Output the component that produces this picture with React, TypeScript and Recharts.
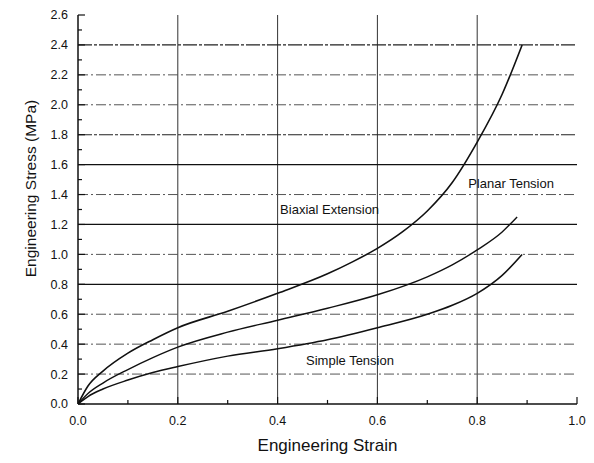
import {
  LineChart,
  Line,
  XAxis,
  YAxis,
  ReferenceLine,
  ReferenceDot,
} from 'recharts';

const biaxialStrain = [0, 0.02, 0.05, 0.1, 0.15, 0.2, 0.3, 0.4, 0.5, 0.55, 0.6, 0.65, 0.7, 0.75, 0.8, 0.85, 0.89];
const biaxialStress = [0, 0.12, 0.22, 0.34, 0.43, 0.51, 0.62, 0.74, 0.87, 0.95, 1.04, 1.15, 1.29, 1.48, 1.75, 2.07, 2.4];

const planarStrain = [0, 0.02, 0.05, 0.1, 0.15, 0.2, 0.3, 0.4, 0.5, 0.6, 0.7, 0.75, 0.8, 0.85, 0.88];
const planarStress = [0, 0.07, 0.14, 0.23, 0.31, 0.38, 0.48, 0.56, 0.64, 0.73, 0.85, 0.93, 1.03, 1.15, 1.25];

const simpleStrain = [0, 0.02, 0.05, 0.1, 0.15, 0.2, 0.3, 0.4, 0.5, 0.6, 0.7, 0.75, 0.8, 0.85, 0.89];
const simpleStress = [0, 0.05, 0.1, 0.16, 0.21, 0.25, 0.32, 0.37, 0.43, 0.51, 0.6, 0.66, 0.74, 0.86, 1.0];

const xTicks = [0, 0.2, 0.4, 0.6, 0.8, 1.0];
const yTicks = [0, 0.2, 0.4, 0.6, 0.8, 1.0, 1.2, 1.4, 1.6, 1.8, 2.0, 2.2, 2.4, 2.6];
const xMinorTicks = [0.1, 0.3, 0.5, 0.7, 0.9];
const yMinorTicks = [0.1, 0.3, 0.5, 0.7, 0.9, 1.1, 1.3, 1.5, 1.7, 1.9, 2.1, 2.3, 2.5];

const solidGrid = [0.8, 1.2, 1.6];
const darkDashGrid = [1.8, 2.4];
const lightDashGrid = [0.2, 0.4, 0.6, 1.0, 1.4, 2.0, 2.2];
const verticalGrid = [0.2, 0.4, 0.6, 0.8];

const curveLabels = [
  { text: 'Biaxial Extension', strain: 0.405, stress: 1.3 },
  { text: 'Planar Tension', strain: 0.782, stress: 1.477 },
  { text: 'Simple Tension', strain: 0.457, stress: 0.294 },
];

const toPoints = (xs: number[], ys: number[]) => xs.map((x, i) => ({ strain: x, stress: ys[i] }));

const biaxial = toPoints(biaxialStrain, biaxialStress);
const planar = toPoints(planarStrain, planarStress);
const simple = toPoints(simpleStrain, simpleStress);

const FONT = '"Liberation Sans", Arial, Helvetica, sans-serif';
const fmt = (v: number) => v.toFixed(1);

export default function App() {
  return (
    <div style={{ position: 'absolute', left: 0, top: 0, width: 594, height: 463, background: '#fff', fontFamily: FONT }}>
      <LineChart width={594} height={463} margin={{ top: 15, right: 17, bottom: 0, left: 0 }}>
        <XAxis
          dataKey="strain"
          type="number"
          domain={[0, 1]}
          ticks={xTicks}
          tickFormatter={fmt}
          tickSize={0}
          tickMargin={12}
          height={59}
          allowDataOverflow
          axisLine={{ stroke: '#111', strokeWidth: 1.5 }}
          tick={{ fill: '#111', fontSize: 12.5, fontFamily: FONT }}
          label={{ value: 'Engineering Strain', position: 'center', dy: 11, fill: '#111', fontSize: 17, fontFamily: FONT }}
        />
        <YAxis
          dataKey="stress"
          type="number"
          domain={[0, 2.6]}
          ticks={yTicks}
          tickFormatter={fmt}
          tickSize={0}
          tickMargin={10}
          width={78}
          allowDataOverflow
          axisLine={{ stroke: '#111', strokeWidth: 1.5 }}
          tick={{ fill: '#111', fontSize: 12.5, fontFamily: FONT }}
          label={{ value: 'Engineering Stress (MPa)', angle: -90, position: 'center', dx: -9, dy: -21, fill: '#111', fontSize: 15.5, fontFamily: FONT }}
        />

        {verticalGrid.map((v) => (
          <ReferenceLine key={`vx-${v}`} x={v} stroke="#333" strokeWidth={1} />
        ))}
        {solidGrid.map((v) => (
          <ReferenceLine key={`sg-${v}`} y={v} stroke="#111" strokeWidth={1.2} />
        ))}
        {darkDashGrid.map((v) => (
          <ReferenceLine key={`dg-${v}`} y={v} stroke="#222" strokeWidth={1.1} strokeDasharray="14 2 3 2" />
        ))}
        {lightDashGrid.map((v) => (
          <ReferenceLine key={`lg-${v}`} y={v} stroke="#555" strokeWidth={1} strokeDasharray="10 3 2 3" />
        ))}

        {xMinorTicks.map((v) => (
          <ReferenceLine key={`xm-${v}`} segment={[{ x: v, y: 0 }, { x: v, y: 0.027 }]} stroke="#111" strokeWidth={1.2} ifOverflow="visible" />
        ))}
        {xTicks.map((v) => (
          <ReferenceLine key={`xM-${v}`} segment={[{ x: v, y: 0 }, { x: v, y: 0.047 }]} stroke="#111" strokeWidth={1.2} ifOverflow="visible" />
        ))}
        {yMinorTicks.map((v) => (
          <ReferenceLine key={`ym-${v}`} segment={[{ x: 0, y: v }, { x: 0.008, y: v }]} stroke="#111" strokeWidth={1.2} ifOverflow="visible" />
        ))}
        {yTicks.map((v) => (
          <ReferenceLine key={`yM-${v}`} segment={[{ x: 0, y: v }, { x: 0.014, y: v }]} stroke="#111" strokeWidth={1.2} ifOverflow="visible" />
        ))}

        <Line data={biaxial} dataKey="stress" type="monotone" stroke="#111" strokeWidth={1.6} dot={false} isAnimationActive={false} />
        <Line data={planar} dataKey="stress" type="monotone" stroke="#111" strokeWidth={1.4} dot={false} isAnimationActive={false} />
        <Line data={simple} dataKey="stress" type="monotone" stroke="#111" strokeWidth={1.5} dot={false} isAnimationActive={false} />

        {curveLabels.map((l) => (
          <ReferenceDot
            key={l.text}
            x={l.strain}
            y={l.stress}
            r={0}
            stroke="none"
            fill="none"
            label={{ value: l.text, position: 'right', offset: 0, fill: '#111', fontSize: 13, fontFamily: FONT }}
          />
        ))}
      </LineChart>
    </div>
  );
}
